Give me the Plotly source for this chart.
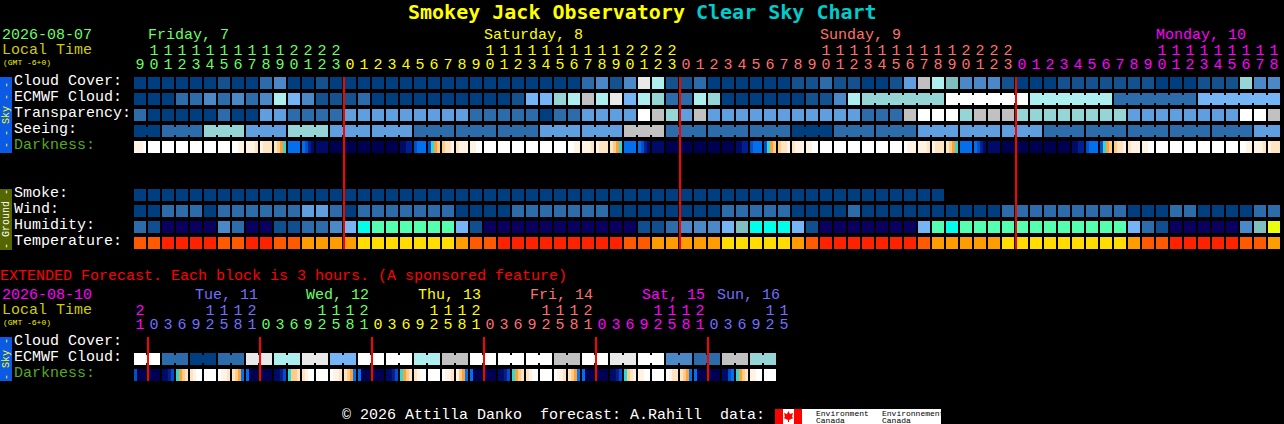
import plotly.graph_objects as go

# sky rows, one value per hour block, index into sky_colors
sky_colors = ['#003f7f', '#13528f', '#2c6cab', '#4a88c8', '#5f9fe0', '#75b5f5',
              '#95d5d5', '#adeeee', '#c1c1c1', '#e9e9e9', '#ffffff', '#7fbfbf']
humidity_colors = ['#0a0060', '#0f4f8f', '#2c6cab', '#4a88c8', '#75b5f5',
                   '#7fbfbf', '#00ffea', '#55ffb0', '#eaff10']
temperature_colors = ['#ff2200', '#ff5a00', '#ff9d00', '#ffdd00']
darkness_colors = {'W': '#ffffff', 'C': '#fff3e4', 'P': '#ffe4c4', 'O': '#ffcc88',
                   'A': '#ffa030', 'T': '#30d8d8', 'S': '#0070ee', 'B': '#0050c8',
                   'M': '#002090', 'N': '#000a68', 'D': '#000050'}

cloud_cover = [0, 0, 0, 0, 0, 0, 1, 0, 0, 2, 3, 0, 0, 1, 0, 0, 0, 0, 0, 0, 0,
               0, 0, 0, 0, 0, 0, 0, 0, 0, 0, 0, 2, 3, 1, 3, 9, 7, 1, 1, 2, 0, 0, 0, 0, 0, 0, 1, 1, 2, 1, 1,
               0, 0, 1, 4, 8, 7, 11, 3, 3, 3, 1, 0, 0, 0, 1, 1, 1, 1, 1, 1, 1, 0, 0, 0, 1, 1, 1, 6, 3, 3]
ecmwf_cloud = [0, 0, 0, 2, 2, 3, 2, 3, 2, 3, 7, 5, 3, 1, 1, 1, 2, 0, 0, 0, 0,
               0, 0, 0, 0, 0, 0, 1, 5, 5, 6, 7, 8, 7, 9, 5, 7, 6, 2, 2, 7, 6, 0, 0, 0, 0, 0, 0, 1, 1, 3, 7,
               6, 6, 6, 6, 6, 6, 10, 10, 10, 10, 10, 10, 7, 7, 7, 7, 7, 7, 2, 2, 2, 2, 2, 2, 5, 5, 5, 5, 5, 5]
ecmwf_runs = [1] * 52 + [6] * 5
transparency = [2, 0, 0, 0, 0, 0, 2, 0, 0, 4, 4, 2, 2, 2, 2, 4, 4, 4, 4, 4, 4,
                4, 4, 4, 2, 2, 2, 2, 2, 0, 2, 2, 4, 4, 4, 4, 10, 8, 6, 4, 8, 4, 4, 4, 4, 4, 4, 4, 4, 4, 4, 4,
                2, 2, 2, 8, 10, 10, 10, 6, 8, 8, 8, 6, 6, 6, 6, 6, 6, 6, 6, 4, 4, 4, 4, 4, 4, 4, 4, 10, 10, 8]
seeing = [0, 0, 2, 2, 2, 6, 6, 6, 4, 4, 4, 6, 6, 6, 4, 4, 4, 4, 4, 4, 2, 2, 2, 2, 2, 2, 2, 2, 2,
          4, 4, 4, 4, 4, 4, 8, 8, 8, 2, 2, 2, 2, 2, 2, 2, 2, 2, 0, 0, 0, 2, 2, 2, 2, 2, 2,
          4, 4, 4, 4, 4, 4, 4, 4, 4, 2, 2, 2, 2, 2, 2, 2, 2, 2, 2, 2, 2, 2, 2, 2, 4, 4]
seeing_runs = [2] + [3] * 26 + [2]
darkness = ('CCCW WWWW WWWW WWWW WWWW WWWW WWWW WWCC CCCP CPPP POAT SSSS SBMN NNNN DDDD DDDD DDDD DDDD DDDD NNMM BSSS '
            'BTAO OPPC PCCC CCWW WWWW WWWW WWWW WWWW WWWW WWWW WWCC CCCP CPPP POAT SSSS SBMN NNNN DDDD DDDD DDDD DDDD DDDD NNMM BSSS '
            'BTAO OPPC PCCC CCWW WWWW WWWW WWWW WWWW WWWW WWWW WCCC CCCP CPPP POAT SSSS SBMN NNNN DDDD DDDD DDDD DDDD DDDD NNMM BSSS '
            'BTAO OPPC PCCC CCWW WWWW WWWW WWWW WWWW WWWW WWWW WWCC CCCP CPPP').split()
smoke = [0] * 58
wind = [0, 0, 2, 2, 2, 0, 2, 2, 2, 2, 2, 2, 4, 4, 2, 0, 2, 2, 2, 2, 2,
        2, 2, 0, 0, 0, 0, 2, 2, 2, 2, 2, 2, 2, 0, 0, 0, 0, 0, 0, 0, 0, 2, 2, 2, 2, 2, 0, 0, 0, 0, 2,
        0, 0, 0, 0, 0, 0, 0, 0, 0, 0, 2, 2, 2, 2, 2, 2, 2, 2, 2, 0, 0, 0, 2, 2, 0, 0, 0, 0, 2, 2]
humidity = [2, 1, 0, 0, 0, 0, 3, 2, 0, 0, 1, 1, 2, 2, 3, 4, 6, 7, 7, 7, 7,
            7, 7, 4, 1, 0, 0, 0, 0, 0, 0, 0, 0, 0, 0, 0, 1, 1, 2, 3, 3, 3, 4, 5, 6, 6, 6, 4, 1, 0, 0, 0,
            0, 0, 0, 0, 4, 7, 6, 7, 7, 7, 7, 7, 7, 7, 7, 7, 7, 7, 7, 4, 2, 1, 0, 0, 0, 0, 0, 3, 5, 8]
temperature = [1, 1, 0, 0, 0, 0, 1, 1, 0, 0, 1, 1, 2, 2, 2, 2, 3, 3, 3, 3, 3,
               3, 3, 2, 1, 1, 0, 0, 0, 0, 0, 0, 0, 0, 0, 1, 1, 2, 2, 2, 2, 2, 3, 3, 3, 3, 3, 2, 1, 0, 0, 0,
               0, 0, 0, 0, 1, 2, 2, 2, 2, 2, 3, 3, 3, 3, 3, 3, 3, 3, 3, 2, 1, 1, 0, 0, 0, 0, 0, 1, 1, 2]
hours = [9, 10, 11, 12, 13, 14, 15, 16, 17, 18, 19, 20, 21, 22, 23] + list(range(24)) * 2 + list(range(19))
hour_days = [0] * 15 + [1] * 24 + [2] * 24 + [3] * 19
midnights = [344, 680, 1016]

# extended forecast, 3 hour blocks
ext_ecmwf = [v for v in [10, 2, 0, 2, 9, 7, 9, 5, 10, 10, 7, 8, 10, 10, 10, 8, 10, 9, 10, 3, 2, 8, 6] for _ in (0, 1)]
ext_runs = [2] * 23
ext_darkness = ('BDDD DDDD NNMB TAOP PCWW WWWW WCCP POAS SDDD DDDD NNMB TOOP PCWW WWWW WCCP POAS SDDD DDDD NNMB '
                'TAOP PCWW WWWW WCCP COAS SDDD DDDD NNMB TAOP PCWW WWWW WCCP POAS SDDD DDDD NNMB TOPC CCWW WWWW '
                'WCPP POAS SDDD DDDD NNBS TAOP CCWW WWWW').split()
ext_hours = [21] + [0, 3, 6, 9, 12, 15, 18, 21] * 5 + [0, 3, 6, 9, 12, 15]
ext_days = [3] + [4] * 8 + [0] * 8 + [1] * 8 + [2] * 8 + [3] * 8 + [4] * 6
ext_midnights = [148, 260, 372, 484, 596, 708]

day_colors = ['#66ff66', '#ffff00', '#ff7070', '#ff00ff', '#7070ff']
day_titles = ['Friday, 7', 'Saturday, 8', 'Sunday, 9', 'Monday, 10']
ext_titles = ['Tue, 11', 'Wed, 12', 'Thu, 13', 'Fri, 14', 'Sat, 15', 'Sun, 16']

MONO = 'Liberation Mono'
LEFT, PITCH, BLOCK = 134, 14, 12


def scale(colors):
    return [[i / (len(colors) - 1), c] for i, c in enumerate(colors)]


def block_row(values, colors, top):
    return go.Heatmap(z=[values], x0=LEFT + BLOCK / 2, dx=PITCH, y0=top + BLOCK / 2, dy=16, xgap=2, ygap=4,
                      colorscale=scale(colors), zmin=0, zmax=len(colors) - 1, showscale=False, hoverinfo='skip')


def link_row(values, runs, top):
    # the necks that join blocks of one forecast period
    xs, tints, start = [], [], 0
    for run in runs:
        for i in range(start, start + run - 1):
            xs.append(LEFT + PITCH * i + BLOCK + 1)
            tints.append(sky_colors[values[i]])
        start += run
    return go.Bar(x=xs, y=[8] * len(xs), base=top + 2, width=2, marker=dict(color=tints, line_width=0), hoverinfo='skip')


def dark_row(tokens, top):
    keys = list(darkness_colors)
    edges, row = [], []
    for i, token in enumerate(tokens):
        x = LEFT + PITCH * i
        edges += [x, x + 3, x + 6, x + 9, x + 12]
        row += [keys.index(c) for c in token] + [None]
    edges.append(edges[-1] + 2)
    return go.Heatmap(z=[row[:-1] + [None]], x=edges, y=[top, top + BLOCK], colorscale=scale(list(darkness_colors.values())),
                      zmin=0, zmax=len(keys) - 1, showscale=False, hoverinfo='skip')


def red_lines(xs, top, bottom):
    return go.Bar(x=xs, y=[bottom - top] * len(xs), base=top, width=2, marker=dict(color='#ff0000', line_width=0), hoverinfo='skip')


def digits(labels, days, y):
    xs = [LEFT + BLOCK / 2 + PITCH * i for i in range(len(labels))]
    return go.Scatter(x=xs, y=[y] * len(xs), mode='text', text=labels, hoverinfo='skip',
                      textposition='middle center',
                      textfont=dict(family=MONO, size=15, color=[day_colors[d] for d in days]))


fig = go.Figure()
fig.add_trace(block_row(cloud_cover, sky_colors, 77))
fig.add_trace(block_row(ecmwf_cloud, sky_colors, 93))
fig.add_trace(link_row(ecmwf_cloud, ecmwf_runs, 93))
fig.add_trace(block_row(transparency, sky_colors, 109))
fig.add_trace(block_row(seeing, sky_colors, 125))
fig.add_trace(link_row(seeing, seeing_runs, 125))
fig.add_trace(dark_row(darkness, 141))
fig.add_trace(block_row(smoke, sky_colors, 189))
fig.add_trace(block_row(wind, sky_colors, 205))
fig.add_trace(block_row(humidity, humidity_colors, 221))
fig.add_trace(block_row(temperature, temperature_colors, 237))
fig.add_trace(block_row(ext_ecmwf, sky_colors, 353))
fig.add_trace(link_row(ext_ecmwf, ext_runs, 353))
fig.add_trace(dark_row(ext_darkness, 369))

# midnight markers
fig.add_trace(red_lines(midnights, 77, 249))
fig.add_trace(red_lines(ext_midnights, 337, 381))

# hour labels
fig.add_trace(digits([str(h % 10) for h in hours], hour_days, 65))
fig.add_trace(digits([str(h // 10) if h > 9 else '' for h in hours], hour_days, 51))
fig.add_trace(digits([str(h % 10) for h in ext_hours], ext_days, 325))
fig.add_trace(digits([str(h // 10) if h > 9 else '' for h in ext_hours], ext_days, 311))


def label(x, y, text, color='#ffffff', size=15, bold=False, angle=0, anchor='left'):
    fig.add_annotation(x=x, y=y, text='<b>%s</b>' % text if bold else text, showarrow=False, xanchor=anchor,
                       yanchor='middle', textangle=angle, borderpad=0, borderwidth=0,
                       font=dict(family='DejaVu Sans Mono' if bold else MONO, size=size, color=color))


label(408, 12, 'Smokey Jack Observatory', '#ffff00', 20, True)
label(696, 12, 'Clear Sky Chart', '#00cccc', 20, True)
label(2, 35, '2026-08-07', day_colors[0])
label(2, 50, 'Local Time', '#cccc00')
label(3, 62, '(GMT -6+0)', '#eeee00', 8)
for x, title, color in zip([148, 484, 820, 1156], day_titles, day_colors):
    label(x, 35, title, color)

for y, name in zip([81, 97, 113, 129], ['Cloud Cover:', 'ECMWF Cloud:', 'Transparency:', 'Seeing:']):
    label(14, y, name)
label(14, 145, 'Darkness:', '#55aa22')
for y, name in zip([193, 209, 225, 241], ['Smoke:', 'Wind:', 'Humidity:', 'Temperature:']):
    label(14, y, name)

label(0, 276, 'EXTENDED Forecast. Each block is 3 hours. (A sponsored feature)', '#ff0000')
label(2, 295, '2026-08-10', day_colors[3])
label(2, 310, 'Local Time', '#cccc00')
label(3, 322, '(GMT -6+0)', '#eeee00', 8)
for x, title, d in zip([195, 306, 418, 530, 642, 717], ext_titles, [4, 0, 1, 2, 3, 4]):
    label(x, 295, title, day_colors[d])
for y, name in zip([341, 357], ['Cloud Cover:', 'ECMWF Cloud:']):
    label(14, y, name)
label(14, 373, 'Darkness:', '#55aa22')

label(6, 115, '- - Sky - -', '#ffff00', 10, angle=-90, anchor='center')
label(6, 219, '- Ground -', '#ffffff', 10, angle=-90, anchor='center')
label(6, 359, '- Sky -', '#ffff00', 10, angle=-90, anchor='center')

label(342, 415, '\u00a9 2026 Attilla Danko  forecast: A.Rahill  data:')
label(816, 413, 'Environment', '#000000', 8)
label(816, 420, 'Canada', '#000000', 8)
label(882, 413, 'Environnement', '#000000', 8)
label(882, 420, 'Canada', '#000000', 8)

shapes = [
    dict(type='rect', x0=0, x1=12, y0=77, y1=153, fillcolor='#0a5ae6'),
    dict(type='rect', x0=0, x1=12, y0=189, y1=250, fillcolor='#556600'),
    dict(type='rect', x0=0, x1=12, y0=337, y1=381, fillcolor='#0a5ae6'),
    dict(type='rect', x0=775, x1=941, y0=409, y1=424, fillcolor='#ffffff'),
    dict(type='rect', x0=775, x1=783, y0=409, y1=424, fillcolor='#ff0000'),
    dict(type='rect', x0=794, x1=802, y0=409, y1=424, fillcolor='#ff0000'),
    dict(type='path', path='M 788.5 411 L 790 414 L 793 413 L 792 417 L 793.5 418 L 789 420 L 789 422 L 788 422 L 788 420 L 783.5 418 L 785 417 L 784 413 L 787 414 Z',
         fillcolor='#ff0000'),
]
for s in shapes:
    s['line_width'] = 0
    s['layer'] = 'below'

fig.update_layout(width=1284, height=424, margin=dict(l=0, r=0, t=0, b=0), paper_bgcolor='#000000',
                  plot_bgcolor='#000000', showlegend=False, barmode='overlay', shapes=shapes,
                  xaxis=dict(range=[0, 1284], visible=False, fixedrange=True),
                  yaxis=dict(range=[424, 0], visible=False, fixedrange=True))
# page margin would push the figure 8px in
fig.write_html("out.html", config={'displayModeBar': False}, post_script="document.body.style.margin='0'")
